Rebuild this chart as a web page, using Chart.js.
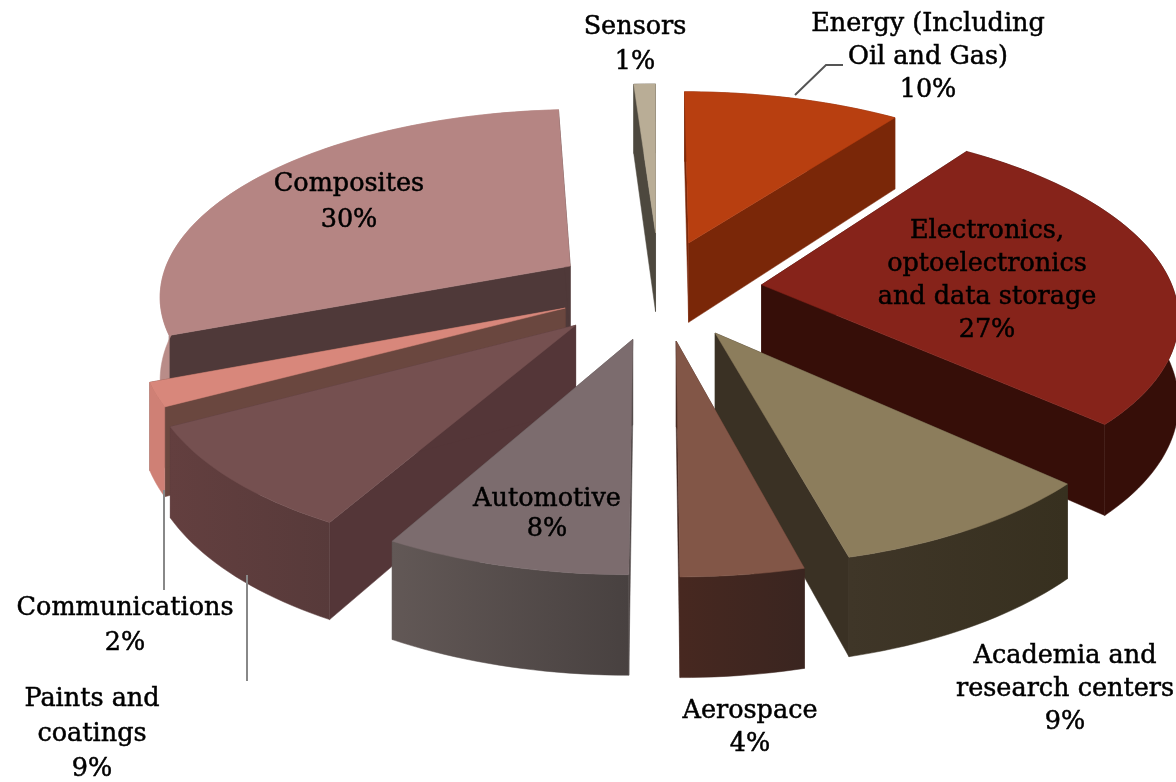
<!DOCTYPE html>
<html>
<head>
<meta charset="utf-8">
<script src="https://cdn.jsdelivr.net/npm/chart.js@4"></script>
<style>
  html, body { margin: 0; padding: 0; background: #fff; }
  canvas { display: block; filter: blur(0.45px); }
</style>
</head>
<body>
<canvas id="pieChart" width="1176" height="782"></canvas>
<script>
const categories = ['Energy (Including Oil and Gas)', 'Electronics, optoelectronics and data storage',
    'Academia and research centers', 'Aerospace', 'Automotive', 'Paints and coatings',
    'Communications', 'Composites', 'Sensors'];
const shares = [10, 27, 9, 4, 8, 9, 2, 30, 1];

const topColors = ['#b83f10', '#86231a', '#8c7d5c', '#825647', '#7c6c6e', '#755050', '#d8877b', '#b58583', '#b9ad96'];
const radialWallColors = ['#7a2708', '#360e08', '#3a3124', '#44261f', '#4f4746', '#543638', '#6a473f', '#4f3939', '#4d483e'];
const outerWallStart = ['#7a2708', '#360e08', '#3f3628', '#472820', '#625856', '#633f3f', '#cf8075', '#b98c88', '#4d483e'];
const outerWallEnd = ['#7a2708', '#360e08', '#37301f', '#3a2520', '#484140', '#573a3a', '#cf8075', '#b98c88', '#4d483e'];

// how far each slice is pulled out, and how many degrees off its middle line
const sliceOffsets = [136, 113, 92, 90, 87, 95, 91, 116, 156];
const offsetTurns = [-3, -12, -9, -6, 0, 10, 14, 9, 2];
const drawOrder = [7, 8, 0, 1, 6, 5, 4, 2, 3];

const labelLines = [
    ['Energy (Including', 'Oil and Gas)'],
    ['Electronics,', 'optoelectronics', 'and data storage'],
    ['Academia and', 'research centers'],
    ['Aerospace'],
    ['Automotive'],
    ['Paints and', 'coatings'],
    ['Communications'],
    ['Composites'],
    ['Sensors']
];
const labelX = [928, 987, 1065, 750, 547, 92, 125, 349, 635];
const labelY = [24, 231, 656, 711, 499, 699, 608, 184, 27];
const lineGaps = [33, 33, 33, 33, 30, 35, 35, 36, 35];

const leaderLines = [
    { color: '#555', points: [[795, 95], [826, 65], [843, 65]] },
    { color: '#888', points: [[164, 490], [164, 590]] },
    { color: '#888', points: [[247, 575], [247, 681]] }
];

const centerX = 655, centerY = 300;
const flatRadius = 415, tilt = 0.454, perspective = 0.00035, depth = 83;

function project(x, y, z) {
    const s = 1 / (1 - perspective * y);
    return [centerX + x * s, centerY + (y * tilt + z) * s];
}

function fillPoly(ctx, pts, color) {
    ctx.beginPath();
    pts.forEach((p, i) => i ? ctx.lineTo(p[0], p[1]) : ctx.moveTo(p[0], p[1]));
    ctx.closePath();
    ctx.fillStyle = color;
    ctx.fill();
    ctx.strokeStyle = color;
    ctx.lineWidth = 0.5;
    ctx.stroke();
}

const pie3d = {
    id: 'pie3d',
    beforeDatasetsDraw(chart) {
        const ctx = chart.ctx;
        const arcs = chart.getDatasetMeta(0).data;
        drawOrder.forEach(i => {
            const arc = arcs[i];
            const dir = (arc.startAngle + arc.endAngle) / 2 + offsetTurns[i] * Math.PI / 180;
            const off = arc.options.offset;
            const ax = Math.cos(dir) * off, ay = Math.sin(dir) * off;
            const steps = Math.max(4, Math.ceil((arc.endAngle - arc.startAngle) * 40));
            const rim = [];
            for (let n = 0; n <= steps; n++) {
                const a = arc.startAngle + (arc.endAngle - arc.startAngle) * n / steps;
                rim.push([ax + Math.cos(a) * flatRadius, ay + Math.sin(a) * flatRadius]);
            }
            const first = rim[0], last = rim[steps];
            const topRim = rim.map(p => project(p[0], p[1], 0));
            const lowRim = rim.map(p => project(p[0], p[1], depth)).reverse();

            // the two cut faces
            [first, last].forEach(p => {
                fillPoly(ctx, [project(ax, ay, 0), project(p[0], p[1], 0),
                    project(p[0], p[1], depth), project(ax, ay, depth)], radialWallColors[i]);
            });

            // outer wall, shaded from left to right
            const xs = topRim.map(p => p[0]);
            const grad = ctx.createLinearGradient(Math.min(...xs), 0, Math.max(...xs), 0);
            grad.addColorStop(0, outerWallStart[i]);
            grad.addColorStop(1, outerWallEnd[i]);
            fillPoly(ctx, topRim.concat(lowRim), grad);

            fillPoly(ctx, [project(ax, ay, 0)].concat(topRim), arc.options.backgroundColor);
        });
        return false;
    },
    afterDraw(chart) {
        const ctx = chart.ctx;
        leaderLines.forEach(l => {
            ctx.beginPath();
            l.points.forEach((p, i) => i ? ctx.lineTo(p[0], p[1]) : ctx.moveTo(p[0], p[1]));
            ctx.strokeStyle = l.color;
            ctx.lineWidth = 2;
            ctx.stroke();
        });
        ctx.fillStyle = '#000';
        ctx.strokeStyle = '#000';
        ctx.lineWidth = 0.5;
        ctx.font = '25.5px "DejaVu Serif"';
        ctx.textAlign = 'center';
        ctx.textBaseline = 'middle';
        labelLines.forEach((lines, i) => {
            lines.concat(shares[i] + '%').forEach((text, n) => {
                ctx.fillText(text, labelX[i], labelY[i] + n * lineGaps[i]);
                ctx.strokeText(text, labelX[i], labelY[i] + n * lineGaps[i]);
            });
        });
    }
};

new Chart(document.getElementById('pieChart'), {
    type: 'pie',
    data: {
        labels: categories,
        datasets: [{
            data: shares,
            backgroundColor: topColors,
            offset: sliceOffsets,
            borderWidth: 0
        }]
    },
    options: {
        responsive: false,
        animation: false,
        rotation: 0,
        plugins: { legend: { display: false }, tooltip: { enabled: false } }
    },
    plugins: [pie3d]
});
</script>
</body>
</html>
